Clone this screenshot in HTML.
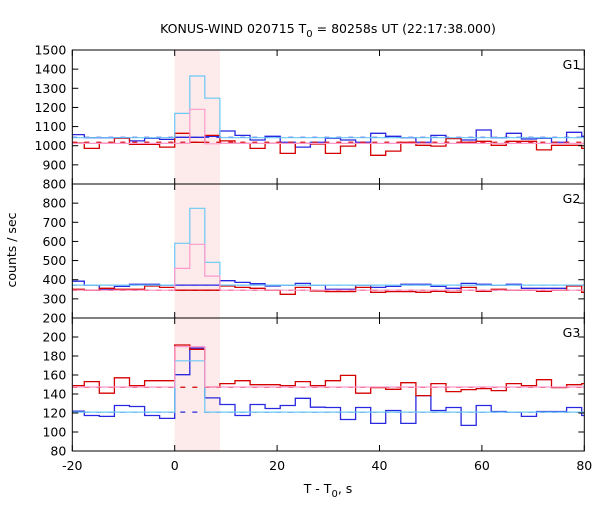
<!DOCTYPE html>
<html><head><meta charset="utf-8"><style>
body{margin:0;background:#fff;}
svg text{font-family:"DejaVu Sans","Liberation Sans",sans-serif;font-size:12.5px;fill:#000;}
</style></head><body>
<svg id="chart" width="600" height="500" xmlns="http://www.w3.org/2000/svg">
<text x="328" y="33" text-anchor="middle">KONUS-WIND 020715 T<tspan dy="4" font-size="10">0</tspan><tspan dy="-4"> = 80258s UT (22:17:38.000)</tspan></text>
<text x="16" y="250" text-anchor="middle" transform="rotate(-90 16 250)">counts / sec</text>
<text x="328" y="493" text-anchor="middle">T - T<tspan dy="4" font-size="10">0</tspan><tspan dy="-4">, s</tspan></text>
<g id="plots"></g>
</svg>
<script>
const binWidth = 2.944;
const firstBin = -7;
const xTicks = [-20, 0, 20, 40, 60, 80];
const burstStart = 0, burstEnd = 8.832;
const g1Blue = [1058,1042,1042,1042,1025,1039,1033,1044,1044,1049,1077,1054,1030,1049,1018,993,1018,1039,1030,1018,1065,1049,1042,1018,1054,1039,1030,1082,1042,1065,1035,1039,1018,1070,1049];
const g1Red = [1014,986,1012,1039,1007,1007,993,1065,1018,1054,1025,1012,986,1012,960,1012,1009,960,998,1012,950,972,1018,1002,998,1037,1018,1023,1002,1023,1023,978,1002,1002,986];
const g1LightBurst = [1169,1364,1248];
const g1PinkBurst = [1012,1190,1010];
const g1Bg = {light:1042, pink:1012, blueDash:1044, redDash:1018};
const g2Blue = [392,372,350,365,376,376,372,372,372,372,395,386,379,367,372,381,372,350,350,372,360,365,376,376,365,355,381,376,372,376,355,355,355,372,372];
const g2Red = [350,345,355,350,350,367,360,345,345,345,367,360,355,345,324,360,341,338,338,360,334,338,338,334,339,334,360,339,350,345,345,339,345,367,334];
const g2LightBurst = [590,773,491];
const g2PinkBurst = [459,585,419];
const g2Bg = {light:372, pink:345, blueDash:372, redDash:345};
const g3Blue = [121.9,117.4,116.4,127.9,126.8,117.4,114.3,160.3,188.2,135.9,128.9,117.4,128.9,124.7,127.9,135.5,126.1,125.8,113.2,125.8,109.1,122.6,109.1,138.3,122.6,125.8,107.0,127.9,121.6,120.9,116.4,121.6,121.6,125.8,117.4];
const g3Red = [148.8,153.0,140.8,157.1,148.8,154.0,154.0,191.6,187.1,147.4,150.9,154.0,149.8,149.8,148.8,153.0,148.8,154.0,159.6,140.8,146.7,145.0,151.9,138.3,150.9,142.5,144.6,145.7,143.6,150.9,148.8,155.1,146.7,149.8,150.9];
const g3LightBurst = [174.9,174.9,120.9];
const g3PinkBurst = [189.9,189.9,147.4];
const g3Bg = {light:120.9, pink:147.4, blueDash:120.9, redDash:147.1};
const g1Ticks = [800,900,1000,1100,1200,1300,1400,1500];
const g2Ticks = [200,300,400,500,600,700,800];
const g3Ticks = [80,100,120,140,160,180,200];

const NS="http://www.w3.org/2000/svg";
const X0=72.3, X1=584.3, xmin=-20, xmax=80;
const xs = v => X0 + (v-xmin)/(xmax-xmin)*(X1-X0);
const root=document.getElementById('plots');
function mk(tag,attrs,parent){const e=document.createElementNS(NS,tag);for(const k in attrs)e.setAttribute(k,attrs[k]);(parent||root).appendChild(e);return e;}

const shade=mk('rect',{x:xs(burstStart),y:50,width:xs(burstEnd)-xs(burstStart),height:401,fill:'#fdeaea'});



const panels=[
 {name:'g1',label:'G1',top:50,bot:184,ymin:800,ymax:1500,blue:g1Blue,red:g1Red,lb:g1LightBurst,pb:g1PinkBurst,bg:g1Bg,ticks:g1Ticks},
 {name:'g2',label:'G2',top:184,bot:318,ymin:200,ymax:900,blue:g2Blue,red:g2Red,lb:g2LightBurst,pb:g2PinkBurst,bg:g2Bg,ticks:g2Ticks},
 {name:'g3',label:'G3',top:318,bot:451,ymin:80,ymax:220,blue:g3Blue,red:g3Red,lb:g3LightBurst,pb:g3PinkBurst,bg:g3Bg,ticks:g3Ticks}
];

function stepPath(vals,ys){
 let d='';
 vals.forEach((v,i)=>{
  let a=(firstBin+i)*binWidth, b=a+binWidth;
  a=Math.max(a,xmin); b=Math.min(b,xmax);
  const y=ys(v).toFixed(1);
  d+=(i===0?'M':'L')+xs(a).toFixed(1)+','+y+'L'+xs(b).toFixed(1)+','+y;
 });
 return d;
}
function bgWithBurst(bg,burst){
 const n=g1Blue.length; const arr=[];
 for(let i=0;i<n;i++){const k=firstBin+i; arr.push(k>=0&&k<3?burst[k]:bg);}
 return arr;
}

panels.forEach(p=>{
 const ys=v=>p.bot-(v-p.ymin)/(p.ymax-p.ymin)*(p.bot-p.top);
 const g=mk('g',{});
 
 
 const clip=mk('clipPath',{id:'c'+p.name},g);
 mk('rect',{x:X0,y:p.top,width:X1-X0,height:p.bot-p.top},clip);
 const data=mk('g',{'clip-path':'url(#c'+p.name+')'},g);
 const bl=mk('path',{d:stepPath(p.blue,ys),fill:'none',stroke:'#2828e0','stroke-width':1.3},data);
 
 
 const rd=mk('path',{d:stepPath(p.red,ys),fill:'none',stroke:'#d40000','stroke-width':1.3},data);
 
 
 const bd=mk('line',{x1:X0,x2:X1,y1:ys(p.bg.blueDash),y2:ys(p.bg.blueDash),stroke:'#2828e0','stroke-width':1.2,'stroke-dasharray':'5,7'},data);
 
 
 const rdd=mk('line',{x1:X0,x2:X1,y1:ys(p.bg.redDash),y2:ys(p.bg.redDash),stroke:'#d40000','stroke-width':1.2,'stroke-dasharray':'5,7'},data);
 
 
 const lb=mk('path',{d:stepPath(bgWithBurst(p.bg.light,p.lb),ys),fill:'none',stroke:'#6cc8f6','stroke-width':1.2},data);
 
 
 const pk=mk('path',{d:stepPath(bgWithBurst(p.bg.pink,p.pb),ys),fill:'none',stroke:'#ff99cc','stroke-width':1.2},data);
 
 
 const fr=mk('rect',{x:X0,y:p.top,width:X1-X0,height:p.bot-p.top,fill:'none',stroke:'#000','stroke-width':1},g);
 
 
 p.ticks.forEach(t=>{
  const y=ys(t);
  mk('line',{x1:X0,x2:X0+6,y1:y,y2:y,stroke:'#000'},g);
  mk('line',{x1:X1-6,x2:X1,y1:y,y2:y,stroke:'#000'},g);
  const tl=mk('text',{x:X0-6,y:y+4.5,'text-anchor':'end'},g);
  tl.textContent=t;
  
  
 });
 xTicks.forEach(t=>{
  const x=xs(t);
  mk('line',{x1:x,x2:x,y1:p.top,y2:p.top+6,stroke:'#000'},g);
  mk('line',{x1:x,x2:x,y1:p.bot-6,y2:p.bot,stroke:'#000'},g);
 });
 const lab=mk('text',{x:X1-4,y:p.top+19,'text-anchor':'end'},g);
 lab.textContent=p.label;
 
 
});
xTicks.forEach(t=>{
 const tl=mk('text',{x:xs(t),y:470,'text-anchor':'middle'});
 tl.textContent=t;
 
 
});
</script>
</body></html>
